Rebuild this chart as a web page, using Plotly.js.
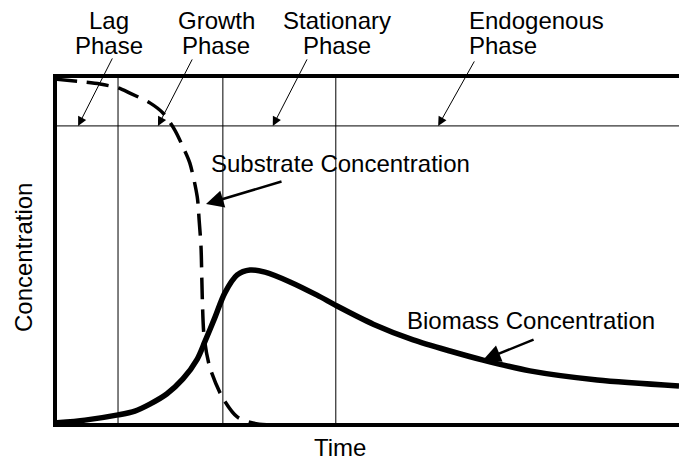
<!DOCTYPE html>
<html>
<head>
<meta charset="utf-8">
<script src="https://cdn.plot.ly/plotly-3.0.1.min.js"></script>
<style>html,body{margin:0;padding:0;background:#fff;}#chart{width:679px;height:461px;}</style>
</head>
<body>
<div id="chart"></div>
<script>
// ---- data (time and concentration in arbitrary units, 0-100) ----
const substrateTime = [0, 4.5, 7.2, 10.1, 12.0, 15.2, 17.3, 19.2, 20.5, 21.6, 22.8, 23.1, 23.4, 23.6, 23.9, 24.8, 26.8, 29.2, 31.7, 34.5, 100];
const substrateConc = [99.1, 98.3, 97.7, 96.6, 95.1, 92.3, 89.4, 84.5, 79.7, 75.1, 65.3, 58.7, 51.0, 36.7, 25.2, 16.6, 8.0, 2.3, 0.6, 0, 0];
const biomassTime = [0, 4.8, 10.1, 12.8, 15.2, 17.9, 20.5, 22.8, 24.0, 25.6, 27.2, 29.2, 31.25, 33.65, 37.66, 42.0, 45.2, 51.0, 57.4, 63.3, 68.6, 76.1, 86.9, 100];
const biomassConc = [0.6, 1.4, 2.9, 4.0, 6.0, 8.9, 13.2, 18.9, 23.8, 30.7, 37.8, 43.0, 44.4, 43.8, 41.0, 37.2, 34.1, 28.9, 24.4, 21.2, 18.6, 15.5, 12.9, 11.2];
const phaseBoundaries = [10.1, 26.9, 45.0];
const referenceLevel = 85.7;
const phaseNames = [["Lag", "Phase"], ["Growth", "Phase"], ["Stationary", "Phase"], ["Endogenous", "Phase"]];
const phasePointers = [3.7, 16.5, 34.9, 61.4];

// ---- layout helpers ----
const W = 679, H = 461;
const M = {l: 57, r: 0, t: 78, b: 38};
const PW = W - M.l - M.r, PH = H - M.t - M.b;
const px = v => (v - M.l) / PW;
const py = v => (H - M.b - v) / PH;
const FONT = {family: "Liberation Sans, Arial, sans-serif", size: 24, color: "#000"};

const traces = [
  {x: substrateTime, y: substrateConc, mode: "lines", line: {color: "#000", width: 3.5, dash: "22px,10px", shape: "spline", smoothing: 0.8}, hoverinfo: "skip"},
  {x: biomassTime, y: biomassConc, mode: "lines", line: {color: "#000", width: 5.5, shape: "spline", smoothing: 0.8}, hoverinfo: "skip"}
];

const shapes = phaseBoundaries.map(b => ({type: "line", xref: "x", yref: "y", x0: b, x1: b, y0: -5, y1: 105, line: {color: "#000", width: 1}, layer: "below"}));
shapes.push({type: "line", xref: "x", yref: "y", x0: -5, x1: 105, y0: referenceLevel, y1: referenceLevel, line: {color: "#000", width: 1}, layer: "below"});

const annotations = [];
// phase labels
const labelPos = [
  {x: 109, anchor: "center"},
  {x: 216, anchor: "center"},
  {x: 337, anchor: "center"},
  {x: 467, anchor: "left"}
];
phaseNames.forEach((lines, i) => {
  lines.forEach((t, j) => {
    annotations.push({text: t, xref: "paper", yref: "paper", x: px(labelPos[i].x), y: py(j === 0 ? 20 : 46),
      xanchor: labelPos[i].anchor, yanchor: "middle", showarrow: false, font: FONT});
  });
});
// phase arrows
const phaseTail = [[35, -69], [35, -68], [35, -68], [37, -66]];
phasePointers.forEach((t, i) => {
  annotations.push({text: "", x: t, y: referenceLevel, xref: "x", yref: "y", ax: phaseTail[i][0], ay: phaseTail[i][1],
    showarrow: true, arrowhead: 2, arrowsize: 1.8, arrowwidth: 1, arrowcolor: "#000", standoff: 0});
});
// curve labels
annotations.push({text: "Substrate Concentration", xref: "paper", yref: "paper", x: px(209), y: py(163), xanchor: "left", yanchor: "middle", showarrow: false, font: FONT});
annotations.push({text: "", x: 24.2, y: 63.3, xref: "x", yref: "y", ax: 77, ay: -23, showarrow: true, arrowhead: 2, arrowsize: 1.4, arrowwidth: 2.5, arrowcolor: "#000", standoff: 0});
annotations.push({text: "Biomass Concentration", xref: "paper", yref: "paper", x: px(405), y: py(320), xanchor: "left", yanchor: "middle", showarrow: false, font: FONT});
annotations.push({text: "", x: 68.6, y: 18.6, xref: "x", yref: "y", ax: 52, ay: -21, showarrow: true, arrowhead: 2, arrowsize: 1.4, arrowwidth: 2.5, arrowcolor: "#000", standoff: 0});
// axis titles
annotations.push({text: "Time", xref: "paper", yref: "paper", x: px(340), y: py(447), xanchor: "center", yanchor: "middle", showarrow: false, font: FONT});
annotations.push({text: "Concentration", xref: "paper", yref: "paper", x: px(23), y: py(258), xanchor: "center", yanchor: "middle", textangle: -90, showarrow: false, font: FONT});

const axisCommon = {showgrid: false, zeroline: false, showticklabels: false, ticks: "", showline: true, linewidth: 4, linecolor: "#000", mirror: true, fixedrange: true};

const layout = {
  width: W, height: H,
  margin: M,
  paper_bgcolor: "#fff", plot_bgcolor: "#fff",
  showlegend: false,
  font: FONT,
  xaxis: Object.assign({range: [(M.l - 55) / 6.24, 100]}, axisCommon),
  yaxis: Object.assign({range: [(425 - (H - M.b)) / 3.49, (425 - M.t) / 3.49]}, axisCommon),
  shapes: shapes,
  annotations: annotations
};

Plotly.newPlot("chart", traces, layout, {staticPlot: true, displayModeBar: false});
</script>
</body>
</html>
